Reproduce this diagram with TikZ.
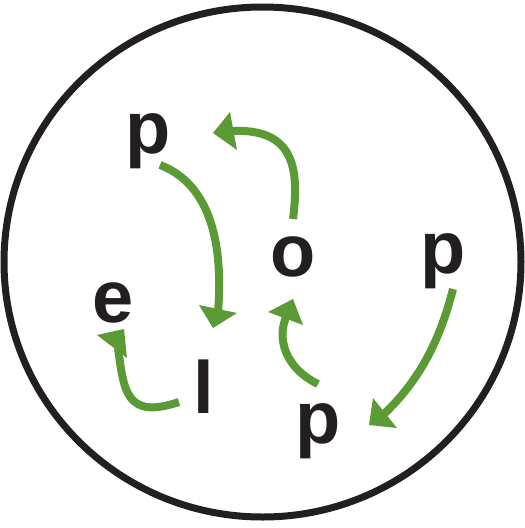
\documentclass[tikz,border=0pt]{standalone}
\usepackage{fontspec}
\setmainfont{Liberation Sans}
\definecolor{ink}{HTML}{231F20}
\definecolor{leaf}{HTML}{5B9B35}
\begin{document}
\begin{tikzpicture}[x=1pt,y=-1pt,
  letter/.style={inner sep=0pt,anchor=base,text=ink,font=\fontsize{74}{74}\selectfont\bfseries},
  shaft/.style={draw=leaf,line width=8pt},
  head/.style={fill=leaf}]
\useasboundingbox (0,0) rectangle (525,528);
\draw[ink,line width=7pt] (262.5,262) ellipse [x radius=258.5, y radius=255];
% letters
\node[letter] (p1) at (148,153) {p};
\node[letter] (o)  at (293,276) {o};
\node[letter] (p2) at (443,273) {p};
\node[letter] (e)  at (113,322) {e};
\node[letter] (l)  at (203.5,413) {l};
\node[letter] (p3) at (318,443) {p};
% arrow p1 -> l
\coordinate (a1s) at (160,165);
\coordinate (a1e) at (218,312);
\draw[shaft] (a1s) .. controls (200,180) and (225,225) .. (a1e);
\fill[head] (199,305) -- (237,313) -- (213,328) -- cycle;
% arrow o -> p1
\coordinate (a2s) at (293,219);
\coordinate (a2e) at (231,131);
\draw[shaft] (a2s) .. controls (300,165) and (292,128) .. (a2e);
\fill[head] (230,112) -- (237,150) -- (213,133) -- cycle;
% arrow p3 -> o
\coordinate (a3s) at (318,384);
\coordinate (a3e) at (287,315);
\draw[shaft] (a3s) .. controls (285,368) and (276,338) .. (a3e);
\fill[head] (268,312) -- (303,325) -- (293,299) -- cycle;
% arrow l -> e
\coordinate (a4s) at (179,402);
\coordinate (a4e) at (118,348);
\draw[shaft] (a4s) .. controls (125,420) and (124,390) .. (a4e);
\fill[head] (97,335) -- (127,358) -- (124,329) -- cycle;
% arrow p2 -> p3
\coordinate (a5s) at (453,289);
\coordinate (a5e) at (383,415);
\draw[shaft] (a5s) .. controls (440,340) and (420,380) .. (a5e);
\fill[head] (373,398) -- (397,428) -- (369,425) -- cycle;
\end{tikzpicture}
\end{document}
